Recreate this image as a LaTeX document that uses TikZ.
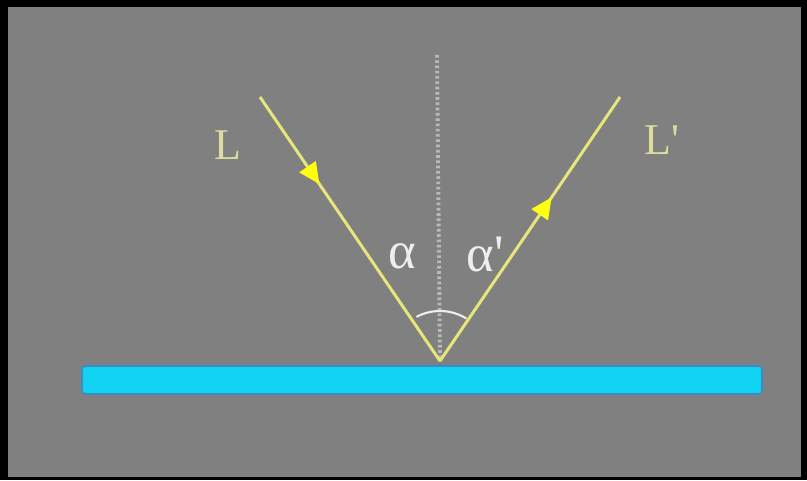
\documentclass[tikz,border=0pt]{standalone}
\usepackage{fontspec}
\setmainfont{Liberation Serif}
\usepackage{tikz}
\usetikzlibrary{arrows.meta,decorations.markings}
\definecolor{panel}{HTML}{808080}
\definecolor{mirror}{HTML}{12D2F2}
\definecolor{mirroredge}{HTML}{3A8CC8}
\definecolor{ray}{HTML}{E6E67A}
\definecolor{raytip}{HTML}{FFFF10}
\definecolor{labelcol}{HTML}{DCDCA0}
\definecolor{anglecol}{HTML}{EEEEEE}
\tikzset{
  lightray/.style={
    color=ray, line width=1.7pt,
    postaction={decorate},
    decoration={markings,
      mark=at position #1 with {\arrow[raytip]{Triangle[length=12pt,width=11pt]}}}
  },
  lightray/.default=0.5,
  normalline/.style={
    draw=gray!55!white, line width=2.2pt, dash pattern=on 1.5pt off 1.5pt
  },
  raylabel/.style={
    font=\fontsize{25}{28}\selectfont, text=labelcol, inner sep=0pt
  },
  anglelabel/.style={
    font=\fontsize{30}{32}\selectfont, text=anglecol, inner sep=0pt
  },
}
\begin{document}
\begin{tikzpicture}[x=0.2mm, y=-0.2mm]
  % frame and panel
  \fill[black] (0,0) rectangle (807,480);
  \fill[panel] (8,7) rectangle (801,477);

  % mirror
  \fill[mirror, draw=mirroredge, line width=1pt, rounded corners=2pt]
    (82,366) rectangle (762,394);

  \coordinate (O) at (440,361);
  \coordinate (A) at (260,97);
  \coordinate (B) at (620,97);
  \coordinate (N) at (437,55);

  % normal
  \draw[normalline] (N) -- (O);

  % incident and reflected ray
  \draw[lightray=0.33] (A) -- (O);
  \draw[lightray=0.62] (O) -- (B);

  % angle arc
  \draw[anglecol, line width=1.2pt] ([shift={(-118:50)}]O) arc[start angle=-118, end angle=-58, radius=50];

  \node[raylabel] (lblL) at (228,145) {L};
  \node[raylabel] (lblLp) at (662,140) {L\textquotesingle};
  \node[anglelabel] (alpha) at (402,256) {α};
  \node[anglelabel] (alphap) at (485,254) {α\textquotesingle};
\end{tikzpicture}
\end{document}
